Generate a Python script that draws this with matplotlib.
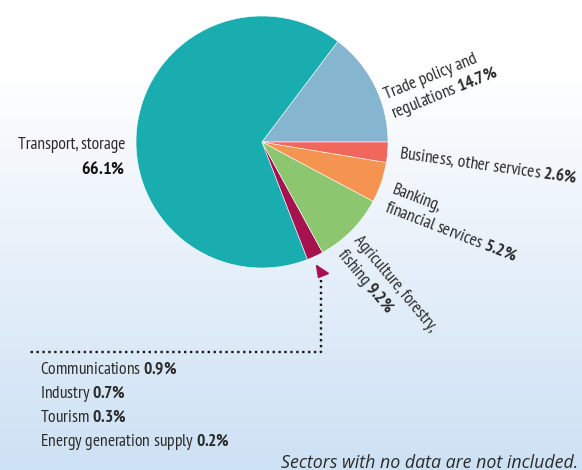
import matplotlib

matplotlib.use("Agg")

import matplotlib.pyplot as plt
import numpy as np
from matplotlib import font_manager
from matplotlib.colors import LinearSegmentedColormap
from matplotlib.patches import Polygon

# shares of aid by sector, counter-clockwise from the east
sectors = [
    "Trade policy and regulations",
    "Transport, storage",
    "Other (small sectors)",
    "Agriculture, forestry, fishing",
    "Banking, financial services",
    "Business, other services",
]
shares = [14.7, 66.1, 2.1, 9.2, 5.2, 2.6]
colors = ["#85b5cf", "#1aadaf", "#a5124f", "#8cc66f", "#f59450", "#f0675c"]

small_sectors = ["Communications", "Industry", "Tourism", "Energy generation supply"]
small_shares = [0.9, 0.7, 0.3, 0.2]

names = {f.name for f in font_manager.fontManager.ttflist}
FONT = next(
    (n for n in ["PT Sans Narrow", "Asap Condensed", "Archivo Narrow", "Roboto Condensed",
                 "Liberation Sans Narrow"] if n in names),
    "DejaVu Sans",
)
ITFONT = next((n for n in ["Open Sans", "Lato", "DejaVu Sans"] if n in names), "DejaVu Sans")
plt.rcParams["font.family"] = [FONT, "DejaVu Sans"]
plt.rcParams["mathtext.fontset"] = "custom"
plt.rcParams["mathtext.rm"] = FONT
plt.rcParams["mathtext.bf"] = FONT + ":bold"
plt.rcParams["mathtext.it"] = FONT + ":italic"

W, H = 582, 470
fig = plt.figure(figsize=(W / 100, H / 100), dpi=100)
ax = fig.add_axes([0, 0, 1, 1])

# background gradient white -> pale blue
bg = LinearSegmentedColormap.from_list(
    "bg", [(0, "#ffffff"), (0.15, "#ffffff"), (0.5, "#eaf2fa"), (1, "#cde1f4")]
)
grad = np.linspace(0, 1, 256).reshape(-1, 1)
ax.imshow(grad, extent=(0, W, H, 0), cmap=bg, aspect="auto", zorder=0)

ax.pie(
    shares,
    colors=colors,
    startangle=0,
    counterclock=False,  # y axis is flipped, so this runs counter-clockwise on screen
    center=(262, 142),
    radius=126,
    frame=True,
    wedgeprops=dict(linewidth=0.4, edgecolor="#ffffff"),
)
ax.set_xlim(0, W)
ax.set_ylim(H, 0)
ax.set_aspect("auto")
ax.axis("off")

FS = 12.5
TXT = "#2b2b2b"


def lab(name, pct):
    return name + r" $\mathbf{" + f"{pct:.1f}" + r"\%}$"


ax.text(125, 145, sectors[1], ha="right", va="center", fontsize=FS, color=TXT)
ax.text(125, 169, r"$\mathbf{" + f"{shares[1]:.1f}" + r"\%}$", ha="right", va="center",
        fontsize=FS + 0.5, color="#111111")

ax.text(389, 106, "Trade policy and\n" + lab("regulations", shares[0]), rotation=22,
        rotation_mode="anchor", ha="left", va="center", multialignment="left",
        fontsize=FS, color=TXT, linespacing=1.25)
ax.text(399, 153, lab("Business, other services", shares[5]), rotation=-8,
        rotation_mode="anchor", ha="left", va="center", fontsize=FS, color=TXT)
ax.text(389, 198, "Banking,\n" + lab("financial services", shares[4]), rotation=-21,
        rotation_mode="anchor", ha="left", va="center", multialignment="left",
        fontsize=FS, color=TXT, linespacing=1.25)
ax.text(347, 245, "Agriculture, forestry,\n" + lab("fishing", shares[3]), rotation=-50,
        rotation_mode="anchor", ha="left", va="center", multialignment="left",
        fontsize=FS, color=TXT, linespacing=1.25)

# pointer from the small-sector slice to the list below
ax.add_patch(Polygon([(316.5, 265.5), (328.5, 273.5), (318.5, 277.5)], closed=True,
                     color=colors[2], zorder=3))
ax.plot([321, 321, 30], [280, 352, 352], color="#1a1a1a", lw=1.7,
        linestyle=(0, (1, 1.5)), solid_capstyle="butt")

for i, (name, pct) in enumerate(zip(small_sectors, small_shares)):
    ax.text(40, 370 + 24 * i, lab(name, pct), ha="left", va="center", fontsize=FS, color=TXT)

ax.text(578, 463, "Sectors with no data are not included.", ha="right", va="center",
        fontsize=12.8, style="italic", family=[ITFONT, "DejaVu Sans"], color=TXT)

fig.savefig("out.png", dpi=100)
